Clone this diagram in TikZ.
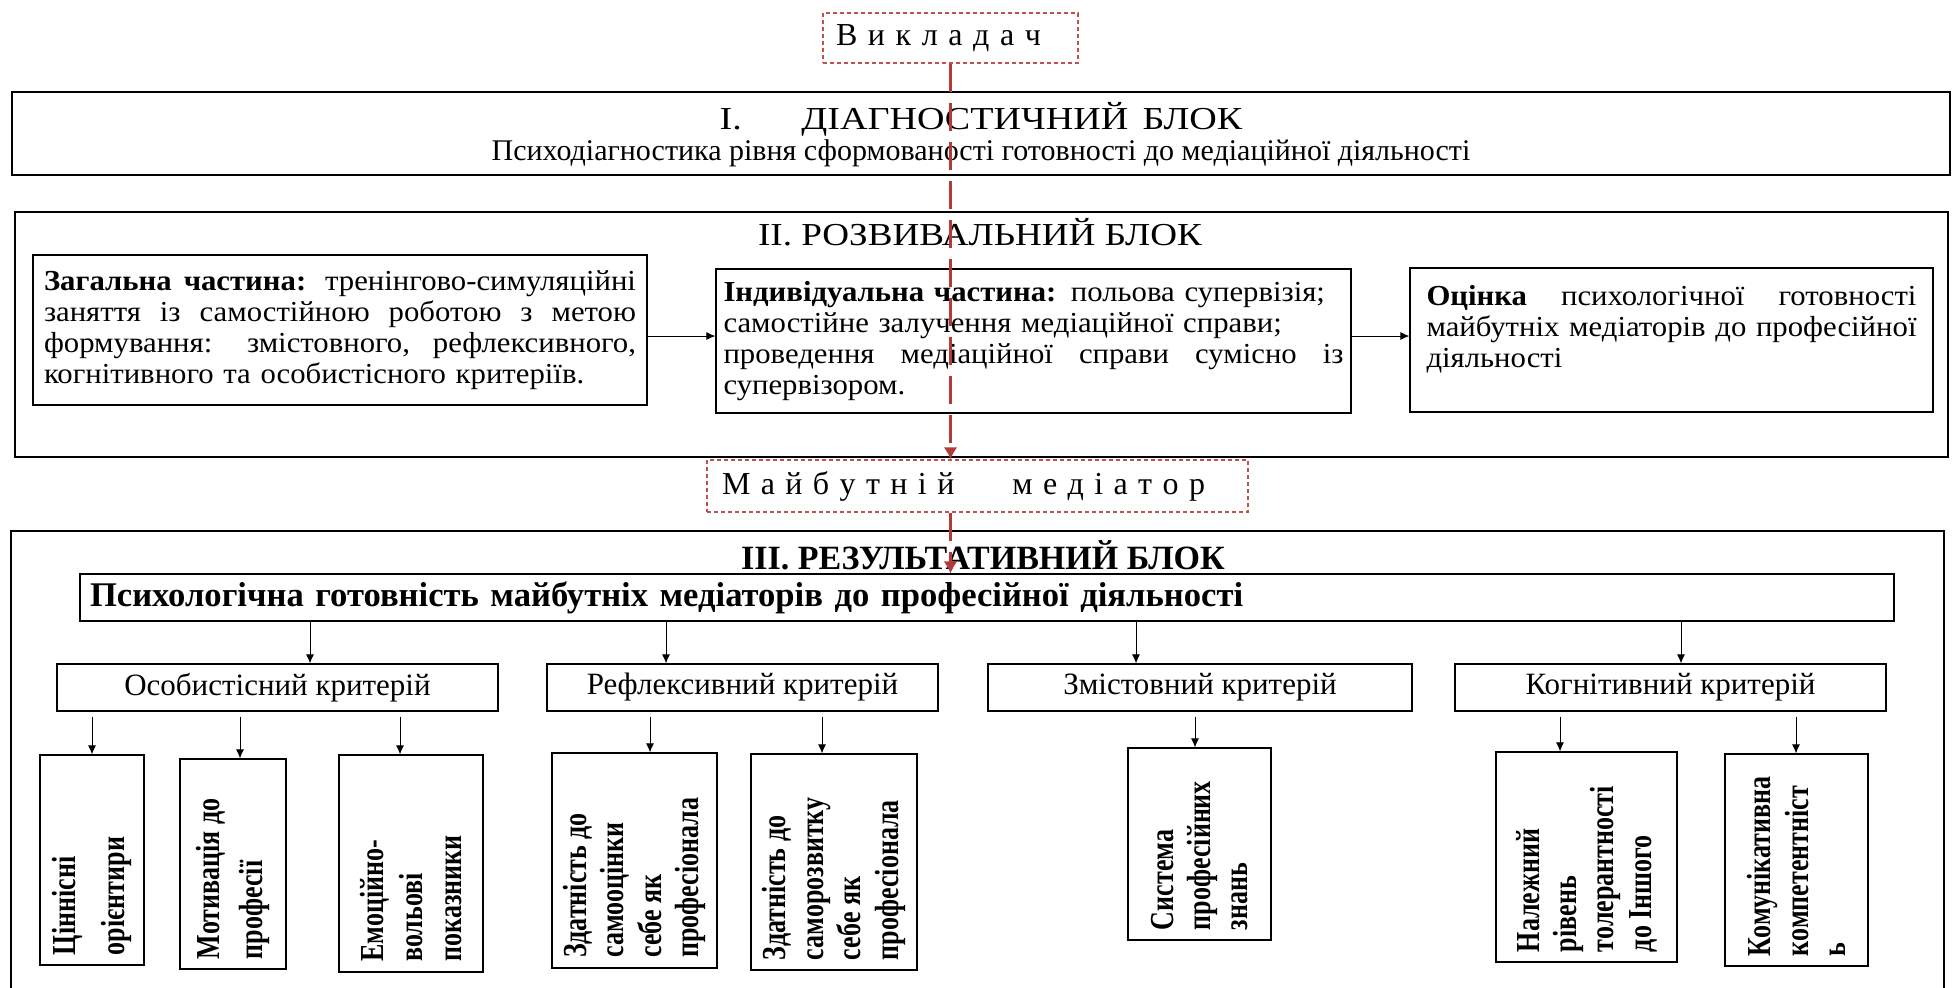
\documentclass[tikz,border=0pt]{standalone}
\usepackage{fontspec}
\setmainfont{Liberation Serif}
\newfontfamily\bodyfam[FakeStretch=1.06]{Liberation Serif}
\usepackage{graphicx}
\usetikzlibrary{arrows.meta}
\definecolor{dred}{HTML}{C0504D}
\definecolor{lred}{HTML}{B23B37}
\newcommand\jline[1]{{\spaceskip=0pt\xspaceskip=0pt\makebox[\hsize][s]{#1}}}
\newcommand\leaftext[3]{\scalebox{1.29}[1]{\rotatebox{90}{\parbox{#1}{\raggedright\fontsize{13}{#2}\selectfont\bfseries #3}}}}
\begin{document}
\begin{tikzpicture}[x=0.5pt,y=-0.5pt,
 box/.style={draw=black,line width=0.6pt,fill=white,inner sep=0pt},
 arr/.style={draw=black,line width=0.5pt,-{Latex[length=4.5pt,width=4pt]}},
 redarr/.style={draw=lred,line width=1.8pt,dash pattern=on 14pt off 5.5pt,-{Latex[length=6pt,width=7pt]}},
 persbox/.style={draw=dred,line width=0.75pt,dash pattern=on 2pt off 1.5pt,fill=white,inner sep=0pt},
 crit/.style={box,minimum height=23.5pt,font=\fontsize{15.5}{18}\selectfont},
 body/.style={align=left,font=\bodyfam\fontsize{14.5}{15.5}\selectfont}]
\useasboundingbox (0,0) rectangle (1952,987);
\fill[white] (0,0) rectangle (1952,987);

% Block I
\node[box,minimum width=969pt,minimum height=41.5pt] (b1) at (981,133.5) {};
\node[font=\fontsize{16}{18}\selectfont,inner sep=0pt] (t1) at (981,119)
 {\scalebox{1.19}[1]{I.\hspace{25pt}ДІАГНОСТИЧНИЙ\hspace{6pt}БЛОК}};
\node[font=\fontsize{15}{17}\selectfont,inner sep=0pt] (s1) at (981,153) {Психодіагностика рівня сформованості готовності до медіаційної діяльності};

% Block II
\node[box,minimum width=966.5pt,minimum height=122.5pt] (b2) at (981.5,334.5) {};
\node[font=\fontsize{16}{18}\selectfont,inner sep=0pt] (t2) at (980,232) {\scalebox{1.16}[1]{II. РОЗВИВАЛЬНИЙ БЛОК}};
\node[box,body,minimum width=307pt,minimum height=75pt,text width=296pt] (zag) at (340,330)
 {\jline{\textbf{Загальна частина:} тренінгово-симуляційні}\\
  \jline{заняття із самостійною роботою з метою}\\
  \jline{формування: змістовного, рефлексивного,}\\
  когнітивного та особистісного критеріїв.};
\node[box,body,minimum width=317.5pt,minimum height=72pt,text width=310pt] (ind) at (1033.5,341)
 {\textbf{Індивідуальна частина:} польова супервізія;\\
  самостійне залучення медіаційної справи;\\
  \jline{проведення медіаційної справи сумісно із}\\
  супервізором.};
\node[box,minimum width=261.5pt,minimum height=72pt] (ots) at (1671.5,340) {};
\node[body,anchor=north,text width=245pt,inner sep=0pt] (otst) at ([yshift=-9pt]ots.north)
 {\jline{\textbf{Оцінка} психологічної готовності}\\
  \jline{майбутніх медіаторів до професійної}\\
  діяльності};
\draw[arr] (zag.east |- 0,336) -- (ind.west |- 0,336);
\draw[arr] (ind.east |- 0,336) -- (ots.west |- 0,336);

% Persons
\node[persbox,minimum width=127.5pt,minimum height=25pt,font=\fontsize{16}{18}\selectfont] (vykl) at (950.5,38)
 {{\spaceskip=5.3pt В и к л а д а ч}\kern12pt};
\node[persbox,minimum width=270.5pt,minimum height=26pt,font=\fontsize{16}{18}\selectfont] (majb) at (977.5,486)
 {{\spaceskip=5.2pt М а й б у т н і й}\hspace{29pt}{\spaceskip=5.2pt м е д і а т о р}\kern14pt};

% Block III
\draw[line width=0.6pt] (11,995) -- (11,531) -- (1944,531) -- (1944,995);
\node[font=\bfseries\fontsize{17}{20}\selectfont,inner sep=0pt] (t3) at (983,555) {III. РЕЗУЛЬТАТИВНИЙ БЛОК};
\node[box,minimum width=907pt,minimum height=23.5pt,text width=897pt,align=left,font=\bfseries\fontsize{17.3}{20}\selectfont] (psych) at (987,597.5)
 {Психологічна готовність майбутніх медіаторів до професійної діяльності};

\node[crit,minimum width=220.5pt] (osob) at (277.5,687.5) {Особистісний критерій};
\node[crit,minimum width=195.5pt] (refl) at (742.5,687.5) {Рефлексивний критерій};
\node[crit,minimum width=212pt] (zmist) at (1200,687.5) {Змістовний критерій};
\node[crit,minimum width=215.5pt] (kogn) at (1670.5,687.5) {Когнітивний критерій};

\coordinate (xa) at (310,0);
\coordinate (xb) at (666,0);
\coordinate (xc) at (1136,0);
\coordinate (xd) at (1681,0);
\draw[arr] (psych.south -| xa) -- (osob.north -| xa);
\draw[arr] (psych.south -| xb) -- (refl.north -| xb);
\draw[arr] (psych.south -| xc) -- (zmist.north -| xc);
\draw[arr] (psych.south -| xd) -- (kogn.north -| xd);

% Leaves
\node[box,minimum width=52pt,minimum height=105pt] (L1) at (92,860) {\leaftext{95pt}{19pt}{Ціннісні\\орієнтири}};
\node[box,minimum width=53pt,minimum height=105pt] (L2) at (233,864) {\leaftext{95pt}{16.9pt}{Мотивація до\\професії}};
\node[box,minimum width=72pt,minimum height=108.5pt] (L3) at (411,863.5) {\leaftext{98pt}{15.3pt}{Емоційно-\\вольові\\показники}};
\node[box,minimum width=82.5pt,minimum height=107.5pt] (L4) at (634.5,860.5) {\leaftext{97pt}{14.5pt}{Здатність до\\самооцінки\\себе як\\професіонала}};
\node[box,minimum width=83pt,minimum height=108pt] (L5) at (834,862) {\leaftext{98pt}{14.5pt}{Здатність до\\саморозвитку\\себе як\\професіонала}};
\node[box,minimum width=71.5pt,minimum height=96pt] (L6) at (1199.5,844) {\leaftext{86pt}{14.5pt}{Система\\професійних\\знань}};
\node[box,minimum width=90.5pt,minimum height=105pt] (L7) at (1586.5,857) {\leaftext{95pt}{14.5pt}{Належний\\рівень\\толерантності\\до Іншого}};
\node[box,minimum width=71.5pt,minimum height=106pt] (L8) at (1796.5,860) {\leaftext{96pt}{14.5pt}{Комунікативна\\компетентніст\\ь}};

\coordinate (p1) at (92,0);
\coordinate (p2) at (240,0);
\coordinate (p3) at (400,0);
\coordinate (p4) at (650,0);
\coordinate (p5) at (822,0);
\coordinate (p6) at (1195,0);
\coordinate (p7) at (1560,0);
\coordinate (p8) at (1796,0);
\draw[arr,shorten <=2.5pt] (osob.south -| p1) -- (L1.north -| p1);
\draw[arr,shorten <=2.5pt] (osob.south -| p2) -- (L2.north -| p2);
\draw[arr,shorten <=2.5pt] (osob.south -| p3) -- (L3.north -| p3);
\draw[arr,shorten <=2.5pt] (refl.south -| p4) -- (L4.north -| p4);
\draw[arr,shorten <=2.5pt] (refl.south -| p5) -- (L5.north -| p5);
\draw[arr,shorten <=2.5pt] (zmist.south -| p6) -- (L6.north -| p6);
\draw[arr,shorten <=2.5pt] (kogn.south -| p7) -- (L7.north -| p7);
\draw[arr,shorten <=2.5pt] (kogn.south -| p8) -- (L8.north -| p8);

% Red flow
\draw[redarr] (vykl.south) -- (vykl.south |- majb.north);
\draw[redarr] (vykl.south |- majb.south) -- (vykl.south |- psych.north);
\end{tikzpicture}
\end{document}
